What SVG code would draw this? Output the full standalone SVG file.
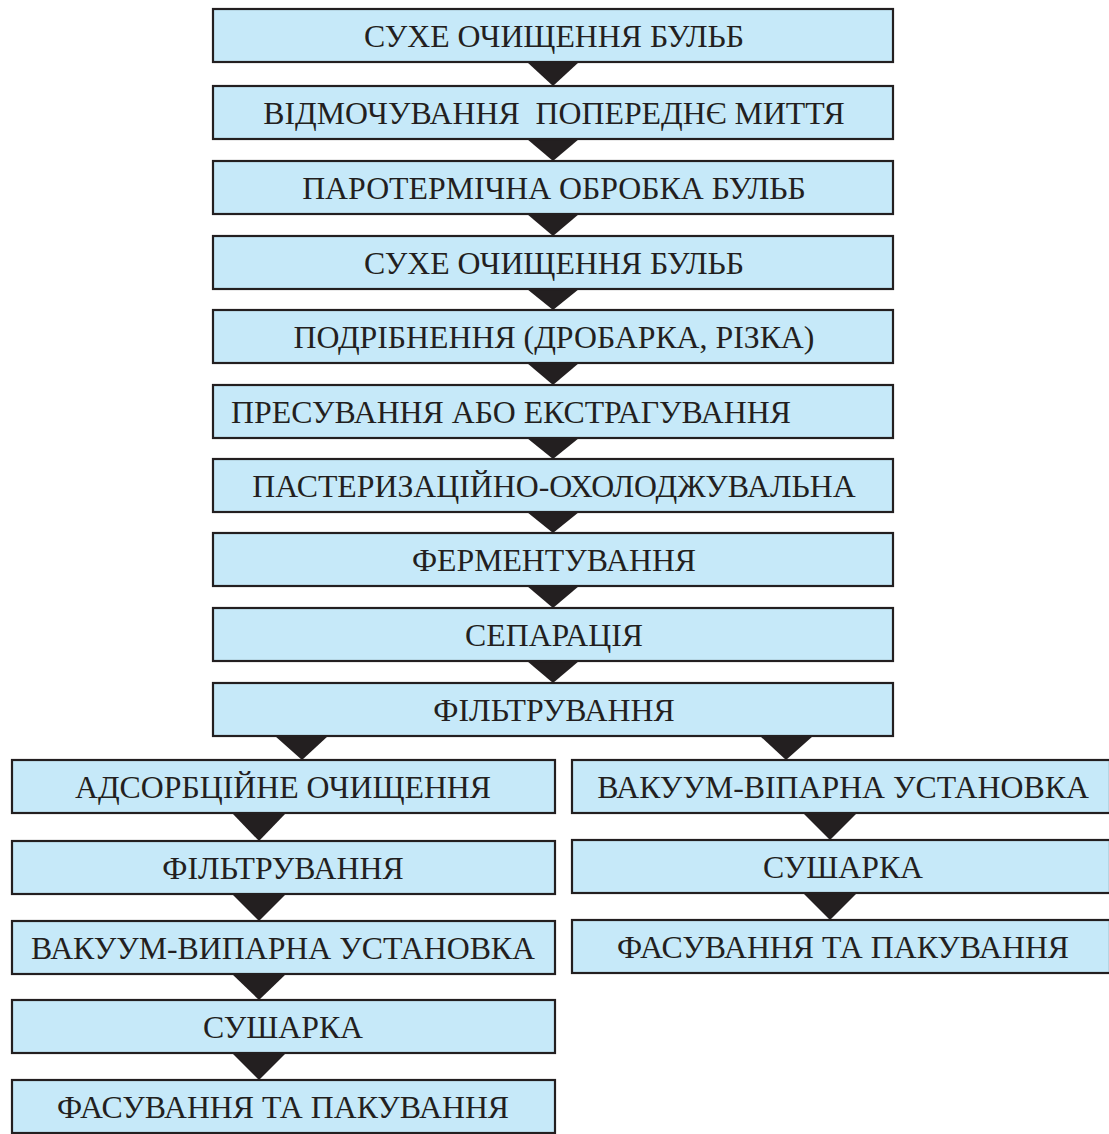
<svg xmlns="http://www.w3.org/2000/svg" width="1109" height="1134" viewBox="0 0 1109 1134">
<style>
.b{fill:#c6e9f9;stroke:#231f20;stroke-width:2.2}
.t{font-family:"Liberation Serif","Times New Roman",serif;font-size:31.8px;fill:#231f20;text-anchor:middle}
.a{fill:#231f20}
</style>
<rect width="1109" height="1134" fill="#fff"/>
<g id="connectors">
<polygon class="a" points="527,62 579,62 553,86"/>
<polygon class="a" points="527,139 579,139 553,161"/>
<polygon class="a" points="527,214 579,214 553,236"/>
<polygon class="a" points="527,289 579,289 553,310"/>
<polygon class="a" points="527,363 579,363 553,385"/>
<polygon class="a" points="527,438 579,438 553,459"/>
<polygon class="a" points="527,512 579,512 553,533"/>
<polygon class="a" points="527,586 579,586 553,608"/>
<polygon class="a" points="527,661 579,661 553,683"/>
<polygon class="a" points="275,736 328,736 302,760"/>
<polygon class="a" points="760,736 813,736 786,760"/>
<polygon class="a" points="232,813 286,813 259,841"/>
<polygon class="a" points="232,894 286,894 259,921"/>
<polygon class="a" points="232,974 286,974 259,1000"/>
<polygon class="a" points="232,1053 286,1053 259,1080"/>
<polygon class="a" points="803,813 857,813 830,840"/>
<polygon class="a" points="803,893 857,893 830,920"/>
</g>
<g id="n1"><rect class="b" x="213" y="9" width="680" height="53"/><text class="t" x="554" y="47">СУХЕ ОЧИЩЕННЯ БУЛЬБ</text></g>
<g id="n2"><rect class="b" x="213" y="86" width="680" height="53"/><text class="t" x="554" y="124" xml:space="preserve">ВІДМОЧУВАННЯ  ПОПЕРЕДНЄ МИТТЯ</text></g>
<g id="n3"><rect class="b" x="213" y="161" width="680" height="53"/><text class="t" x="554" y="199">ПАРОТЕРМІЧНА ОБРОБКА БУЛЬБ</text></g>
<g id="n4"><rect class="b" x="213" y="236" width="680" height="53"/><text class="t" x="554" y="274">СУХЕ ОЧИЩЕННЯ БУЛЬБ</text></g>
<g id="n5"><rect class="b" x="213" y="310" width="680" height="53"/><text class="t" x="554" y="348">ПОДРІБНЕННЯ (ДРОБАРКА, РІЗКА)</text></g>
<g id="n6"><rect class="b" x="213" y="385" width="680" height="53"/><text class="t" x="511" y="423">ПРЕСУВАННЯ АБО ЕКСТРАГУВАННЯ</text></g>
<g id="n7"><rect class="b" x="213" y="459" width="680" height="53"/><text class="t" x="554" y="497">ПАСТЕРИЗАЦІЙНО-ОХОЛОДЖУВАЛЬНА</text></g>
<g id="n8"><rect class="b" x="213" y="533" width="680" height="53"/><text class="t" x="554" y="571">ФЕРМЕНТУВАННЯ</text></g>
<g id="n9"><rect class="b" x="213" y="608" width="680" height="53"/><text class="t" x="554" y="646">СЕПАРАЦІЯ</text></g>
<g id="n10"><rect class="b" x="213" y="683" width="680" height="53"/><text class="t" x="554" y="721">ФІЛЬТРУВАННЯ</text></g>
<g id="l1"><rect class="b" x="12" y="760" width="543" height="53"/><text class="t" x="283" y="798">АДСОРБЦІЙНЕ ОЧИЩЕННЯ</text></g>
<g id="l2"><rect class="b" x="12" y="841" width="543" height="53"/><text class="t" x="283" y="879">ФІЛЬТРУВАННЯ</text></g>
<g id="l3"><rect class="b" x="12" y="921" width="543" height="53"/><text class="t" x="283" y="959">ВАКУУМ-ВИПАРНА УСТАНОВКА</text></g>
<g id="l4"><rect class="b" x="12" y="1000" width="543" height="53"/><text class="t" x="283" y="1038">СУШАРКА</text></g>
<g id="l5"><rect class="b" x="12" y="1080" width="543" height="53"/><text class="t" x="283" y="1118">ФАСУВАННЯ ТА ПАКУВАННЯ</text></g>
<g id="r1"><rect class="b" x="572" y="760" width="538" height="53"/><text class="t" x="843" y="798">ВАКУУМ-ВІПАРНА УСТАНОВКА</text></g>
<g id="r2"><rect class="b" x="572" y="840" width="538" height="53"/><text class="t" x="843" y="878">СУШАРКА</text></g>
<g id="r3"><rect class="b" x="572" y="920" width="538" height="53"/><text class="t" x="843" y="958">ФАСУВАННЯ ТА ПАКУВАННЯ</text></g>
</svg>
